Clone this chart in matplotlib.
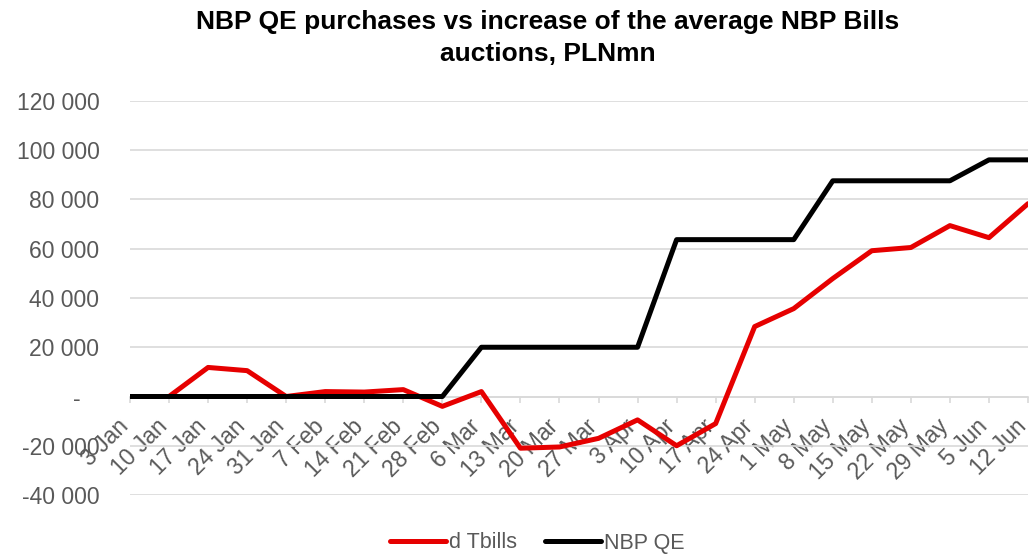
import matplotlib.pyplot as plt
from matplotlib.ticker import FuncFormatter
from matplotlib.transforms import ScaledTranslation

plt.rcParams['font.family'] = ['Liberation Sans', 'DejaVu Sans']

fechas = ["3 Jan", "10 Jan", "17 Jan", "24 Jan", "31 Jan", "7 Feb", "14 Feb", "21 Feb",
          "28 Feb", "6 Mar", "13 Mar", "20 Mar", "27 Mar", "3 Apr", "10 Apr", "17 Apr",
          "24 Apr", "1 May", "8 May", "15 May", "22 May", "29 May", "5 Jun", "12 Jun"]

d_tbills = [0, 0, 11800, 10500, 0, 2000, 1800, 2800, -4000, 2000, -21000, -20500,
            -17000, -9500, -20000, -11000, 28400, 35700, 47900, 59200, 60500, 69400,
            64500, 78300]

nbp_qe = [0, 0, 0, 0, 0, 0, 0, 0, 0, 20000, 20000, 20000, 20000, 20000, 63700, 63700,
          63700, 63700, 87600, 87600, 87600, 87600, 96100, 96100]

gris = "#595959"
linea_gris = "#d9d9d9"


def miles(v, pos):
    if v == 0:
        return "-   "
    return "{:,.0f}".format(v).replace(",", " ")


fig = plt.figure(figsize=(10.33, 5.56), dpi=100)
ax = fig.add_axes([130 / 1033, 1 - 495 / 556, 898 / 1033, 394 / 556])

x = list(range(len(fechas)))
ax.plot(x, d_tbills, color="#e60000", lw=3.6, label="d Tbills", solid_capstyle="round", zorder=3)
ax.plot(x, nbp_qe, color="black", lw=3.6, label="NBP QE", solid_capstyle="round", zorder=4)

ax.set_xlim(0, len(fechas) - 1)
ax.set_ylim(-40000, 120000)
ax.set_yticks(range(-40000, 120001, 20000))
ax.yaxis.set_major_formatter(FuncFormatter(miles))
ax.grid(axis="y", color=linea_gris, lw=1.2)
ax.set_axisbelow(True)

for lado in ["top", "right", "left"]:
    ax.spines[lado].set_visible(False)
ax.spines["bottom"].set_position(("data", 0))
ax.spines["bottom"].set_color(linea_gris)
ax.spines["bottom"].set_linewidth(1.2)

ax.set_xticks(x)
ax.set_xticklabels(fechas, rotation=45, ha="right", va="center", rotation_mode="anchor")
ax.tick_params(axis="x", colors=linea_gris, labelcolor=gris, labelsize=16.5, length=4, width=1.2, pad=15)
ax.tick_params(axis="y", length=0, labelcolor=gris, labelsize=16.5, pad=22)

# pequeño corrimiento a la izquierda para que "12 Jun" no se corte
desplazar = ScaledTranslation(-3.5 / 72, 0, fig.dpi_scale_trans)
for etiqueta in ax.get_xticklabels():
    etiqueta.set_transform(etiqueta.get_transform() + desplazar)

fig.text(548 / 1033, 1 - 38 / 556, "NBP QE purchases vs increase of the average NBP Bills\nauctions, PLNmn",
         fontsize=19, fontweight="bold", ha="center", va="center", linespacing=1.4)

fig.legend(loc="center", bbox_to_anchor=(537 / 1033, 1 - 543 / 556), ncol=2, frameon=False,
           fontsize=15.5, labelcolor=gris, handlelength=2.6, handletextpad=0.15, columnspacing=1.3,
           borderaxespad=0, borderpad=0)

fig.savefig("out.png", dpi=100)
